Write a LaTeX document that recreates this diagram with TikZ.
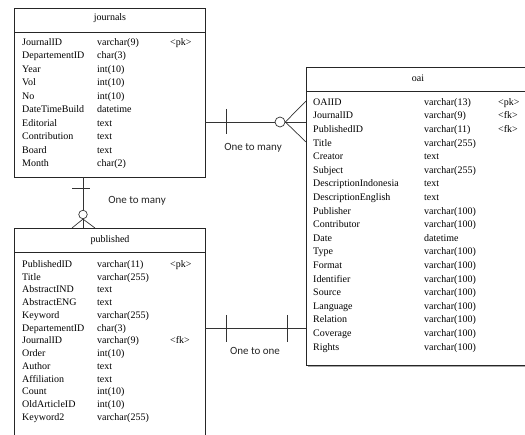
\documentclass[tikz,border=0pt]{standalone}
\usepackage{fontspec}
\setmainfont{Liberation Serif}
\newfontfamily\labelfont{Carlito}
\begin{document}
\begin{tikzpicture}[x=1pt,y=-1pt,
  tbl/.style={draw=black!85, line width=0.8pt},
  fld/.style={anchor=mid west, inner sep=0pt, font=\fontsize{10}{11}\selectfont},
  ttl/.style={anchor=center, inner sep=0pt, font=\fontsize{10}{11}\selectfont},
  conn/.style={draw=black!80, line width=0.7pt},
  rel/.style={inner sep=0pt, font=\labelfont\fontsize{11}{12}\selectfont, text=black!85}]
\useasboundingbox (0,0) rectangle (525,435);
\clip (0,0) rectangle (525,435);
% journals
\draw[tbl] (14,8) rectangle (205,177);
\draw[tbl] (14,32) -- (205,32);
\node[ttl] (jt) at (110,18) {journals};
\foreach \n/\t/\k [count=\i from 0] in {JournalID/varchar(9)/<pk>,DepartementID/char(3)/,Year/int(10)/,Vol/int(10)/,No/int(10)/,DateTimeBuild/datetime/,Editorial/text/,Contribution/text/,Board/text/,Month/char(2)/}{
  \node[fld] (jn\i) at (22,43+\i*13.5) {\n};
  \node[fld] (jy\i) at (97,43+\i*13.5) {\t};
  \node[fld] (jk\i) at (170,43+\i*13.5) {\k};
}
% published
\draw[tbl] (14,228) rectangle (205,445);
\draw[tbl] (14,252) -- (205,252);
\node[ttl] (pt) at (110,240) {published};
\foreach \n/\t/\k [count=\i from 0] in {PublishedID/varchar(11)/<pk>,Title/varchar(255)/,AbstractIND/text/,AbstractENG/text/,Keyword/varchar(255)/,DepartementID/char(3)/,JournalID/varchar(9)/<fk>,Order/int(10)/,Author/text/,Affiliation/text/,Count/int(10)/,OldArticleID/int(10)/,Keyword2/varchar(255)/}{
  \node[fld] (pn\i) at (22,265+\i*12.75) {\n};
  \node[fld] (py\i) at (97,265+\i*12.75) {\t};
  \node[fld] (pk\i) at (170,265+\i*12.75) {\k};
}
% oai
\fill[black!35] (308,365) rectangle (535,367);
\draw[tbl] (306,67) rectangle (535,365);
\draw[tbl] (306,91) -- (535,91);
\node[ttl] (ot) at (418,78) {oai};
\foreach \n/\t/\k [count=\i from 0] in {OAIID/varchar(13)/<pk>,JournalID/varchar(9)/<fk>,PublishedID/varchar(11)/<fk>,Title/varchar(255)/,Creator/text/,Subject/varchar(255)/,DescriptionIndonesia/text/,DescriptionEnglish/text/,Publisher/varchar(100)/,Contributor/varchar(100)/,Date/datetime/,Type/varchar(100)/,Format/varchar(100)/,Identifier/varchar(100)/,Source/varchar(100)/,Language/varchar(100)/,Relation/varchar(100)/,Coverage/varchar(100)/,Rights/varchar(100)/}{
  \node[fld] (on\i) at (313,103+\i*13.6) {\n};
  \node[fld] (oy\i) at (424,103+\i*13.6) {\t};
  \node[fld] (ok\i) at (498,103+\i*13.6) {\k};
}
% connector journals - oai
\coordinate (a1) at (205,122);
\coordinate (a2) at (306,122);
\node[draw=black!80, line width=0.7pt, circle, minimum size=10pt, inner sep=0pt] (c1) at (280,122) {};
\draw[conn] (a1) -- (c1.west);
\draw[conn] (c1.east) -- (a2);
\draw[conn] (c1.east) -- (306,101);
\draw[conn] (c1.east) -- (306,142);
\draw[conn] (226,109) -- (226,134);
\node[rel] (l1) at (253,148) {One to many};
% connector journals - published
\coordinate (b1) at (83,177);
\coordinate (b2) at (83,228);
\node[draw=black!80, line width=0.7pt, circle, minimum size=8.5pt, inner sep=0pt] (c2) at (83,214.5) {};
\draw[conn] (b1) -- (c2.north);
\draw[conn] (c2.south) -- (b2);
\draw[conn] (c2.south) -- (72,228);
\draw[conn] (c2.south) -- (95,228);
\draw[conn] (72,188) -- (90,188);
\node[rel] (l2) at (137,201) {One to many};
% connector published - oai
\coordinate (d1) at (205,328);
\coordinate (d2) at (306,328);
\draw[conn] (d1) -- (d2);
\draw[conn] (226,315) -- (226,342);
\draw[conn] (287,315) -- (287,342);
\node[rel] (l3) at (255,351) {One to one};
\end{tikzpicture}
\end{document}
